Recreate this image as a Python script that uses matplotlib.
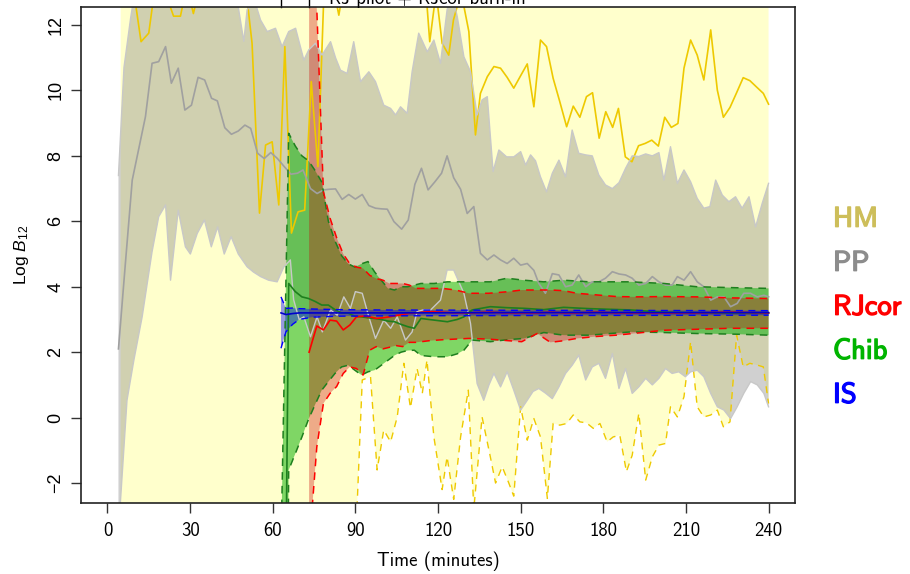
import numpy as np
import matplotlib
matplotlib.use("Agg")
import matplotlib.pyplot as plt
import matplotlib.patheffects as pe

plt.rcParams['mathtext.fontset'] = 'custom'
plt.rcParams['mathtext.rm'] = 'Liberation Sans'
plt.rcParams['mathtext.it'] = 'Liberation Sans:italic'

CMSS = ['cmss10', 'DejaVu Sans']
REG = ['Liberation Sans', 'DejaVu Sans']

#%% Estimates of log Bayes factor over time

# harmonic mean: mean and lower quantile (upper is off the chart)
hm_t = [4.8, 7.2, 9.6, 12.2, 15.0, 17.0, 19.4, 21.8, 24.0, 26.5, 28.8, 31.2, 33.6, 36.0, 38.4, 40.8,
        43.2, 45.6, 48.0, 50.4, 52.5, 55.2, 57.4, 59.8, 62.2, 64.4, 66.8, 69.2, 71.6, 74.0, 76.4, 78.8,
        81.2, 84.0, 86.4, 88.8, 91.2, 93.6, 96.0, 98.4, 100.8, 103.2, 105.6, 108.0, 110.4, 112.8, 115.2,
        117.0, 119.3, 121.5, 123.9, 125.6, 128.4, 131.2, 133.6, 135.4, 137.9, 140.3, 142.7, 145.1,
        147.5, 150.0, 152.4, 154.8, 157.2, 159.4, 161.8, 164.2, 166.7, 169.1, 171.5, 173.9, 176.1,
        178.5, 180.9, 183.4, 185.5, 188.0, 190.4, 192.8, 195.2, 197.6, 200.0, 202.3, 204.7, 207.1,
        209.3, 211.7, 214.1, 216.5, 219.0, 221.4, 223.6, 226.0, 228.4, 230.8, 233.2, 235.7, 238.1, 240.0]
hm_mid = [13.5, 13.5, 13.0, 11.49, 11.75, 13.0, 13.5, 12.8, 12.27, 12.27, 13.2, 12.35, 13.2, 13.5, 13.0,
          13.5, 13.0, 13.4, 12.6, 13.0, 11.44, 6.25, 8.33, 8.43, 6.5, 11.34, 5.64, 6.29, 6.34, 10.27, 7.67,
          13.5, 13.5, 12.3, 13.5, 13.0, 13.5, 13.2, 13.6, 13.0, 13.5, 13.3, 13.5, 13.0, 13.4, 13.2, 13.5,
          11.49, 13.0, 11.44, 11.08, 12.15, 13.0, 11.8, 8.64, 9.91, 10.42, 10.73, 10.68, 10.4,
          10.07, 10.45, 10.81, 9.5, 11.54, 11.34, 10.37, 9.66, 8.89, 9.52, 9.18, 9.81, 9.93,
          8.54, 9.35, 8.87, 9.45, 7.97, 7.82, 8.31, 8.38, 8.48, 8.30, 9.18, 8.87, 8.99,
          10.68, 11.54, 11.08, 10.32, 11.85, 10.01, 9.18, 9.48, 9.93, 10.39, 10.30, 10.10, 9.91, 9.58]

hm_lo_t = [4.8, 90.0, 92.5, 95.5, 97.9, 100.3, 102.8, 105.2, 107.6, 110.0, 112.4, 114.3, 116.0, 118.5,
           121.5, 123.3, 125.7, 128.2, 131.0, 133.0, 136.0, 139.0, 140.9, 143.3, 145.7, 147.5, 150.0,
           152.4, 154.8, 157.2, 159.7, 161.8, 164.2, 166.7, 169.1, 171.5, 173.9, 176.4, 178.8, 181.4,
           183.6, 186.0, 188.4, 190.5, 192.9, 195.4, 197.8, 200.2, 202.6, 204.4, 206.9, 209.3, 211.7,
           214.1, 216.5, 219.0, 221.4, 223.6, 226.0, 228.4, 230.8, 233.2, 235.7, 238.1, 240.0]
hm_lo = [-4.0, -4.0, 1.15, 1.25, -1.6, -0.38, -0.74, 0.02, 1.66, 0.3, 1.5, 0.74, 1.76, -0.59,
         -2.2, -1.2, -2.5, -0.59, 0.84, -2.8, 0.02, -1.2, -2.0, -1.5, -2.0, -2.4, 0.33,
         -0.69, -0.03, -0.59, -2.47, -0.18, -0.23, -0.18, 0.08, -0.13, -0.16, -0.33, -0.18, -0.74,
         -0.59, -0.54, -1.65, -1.15, 0.13, -1.91, -1.2, -0.84, -0.79, 0.33, 0.02, 0.64, 2.32,
         0.33, 0.02, 0.08, 0.23, -0.28, -0.13, 2.52, 1.55, 1.66, 1.61, 1.55, 0.43]

# power posterior: median, lower and upper quantiles
pp_t = [4.0, 6.5, 9.0, 11.4, 13.8, 16.2, 18.6, 21.1, 23.2, 25.7, 28.1, 30.5, 32.9, 35.3, 37.8, 39.9,
        42.6, 45.0, 47.5, 49.9, 52.0, 54.5, 56.9, 59.3, 61.7, 64.2, 66.6, 69.0, 71.0, 73.7, 76.1, 78.5,
        80.6, 82.8, 85.2, 87.6, 90.0, 92.5, 94.9, 97.3, 99.5, 101.6, 104.0, 106.8, 109.2, 111.6, 114.0,
        116.4, 118.9, 121.3, 123.3, 125.7, 128.2, 130.6, 133.0, 135.4, 137.9, 140.3, 142.7, 145.1,
        147.5, 150.0, 152.4, 154.8, 156.6, 159.0, 161.5, 163.9, 166.3, 168.7, 171.1, 173.6, 176.0,
        178.4, 180.8, 183.3, 185.7, 188.1, 190.5, 192.9, 195.4, 197.8, 200.2, 202.6, 205.0, 206.9,
        209.3, 211.7, 214.1, 216.5, 219.0, 221.4, 223.8, 226.2, 228.6, 231.0, 233.4, 235.9, 238.3, 240.0]
pp_mid = [2.1, 4.7, 7.26, 8.23, 9.2, 10.83, 10.88, 11.34, 10.22, 10.68, 9.4, 9.55, 10.4, 10.32, 9.76, 9.68,
          8.86, 8.66, 8.76, 8.94, 8.84, 8.08, 7.92, 8.10, 7.92, 7.67, 7.44, 7.47, 7.57, 7.0, 6.85, 6.96,
          6.98, 6.99, 6.67, 6.82, 6.68, 6.82, 6.48, 6.40, 6.38, 6.37, 5.99, 5.76, 6.04, 7.13, 7.62,
          6.96, 7.21, 7.47, 8.0, 7.33, 6.98, 6.24, 6.45, 5.02, 4.82, 4.97, 4.82, 4.71,
          4.87, 4.66, 4.71, 4.5, 4.1, 3.8, 4.4, 4.36, 4.0, 4.05, 4.36, 4.0, 4.15,
          4.15, 4.26, 4.46, 4.39, 4.36, 4.26, 4.05, 4.1, 4.31, 4.15, 4.05, 4.05, 4.31,
          4.2, 4.46, 4.15, 4.0, 3.59, 3.69, 3.69, 3.39, 3.49, 3.8, 3.8, 3.69, 3.74, 3.69]

pp_hi_t = [4.0, 6.0, 8.4, 10.8, 20.0, 30.0, 40.0, 45.0, 47.4, 49.5, 50.7, 53.2, 55.6, 58.0, 61.0, 63.4,
           65.8, 68.3, 71.3, 73.1, 75.5, 77.9, 81.0, 82.8, 84.6, 87.0, 89.4, 91.9, 94.9, 97.3, 100.3,
           102.8, 104.6, 106.4, 108.8, 110.6, 113.0, 116.1, 118.5, 120.9, 123.3, 125.0, 127.0, 129.4,
           131.8, 134.2, 136.0, 137.9, 140.0, 142.1, 144.9, 147.5, 150.0, 151.8, 153.6, 155.4, 157.2,
           159.4, 161.5, 163.9, 166.3, 168.7, 171.1, 173.6, 176.0, 178.4, 180.8, 183.3, 185.7, 188.1,
           190.5, 192.9, 195.4, 197.8, 200.2, 202.0, 204.4, 206.9, 209.3, 211.7, 214.1, 216.5, 218.7,
           220.8, 223.2, 225.6, 228.0, 230.4, 232.9, 235.3, 237.7, 240.0]
pp_hi = [7.4, 10.7, 12.2, 13.5, 14.0, 14.0, 14.0, 13.5, 12.6, 11.5, 12.46, 12.8, 12.15, 11.8, 11.9, 11.34,
         11.8, 11.9, 10.93, 11.24, 11.44, 11.08, 11.49, 11.0, 10.62, 10.52, 11.49, 10.27, 10.57, 10.27, 9.55,
         9.45, 9.25, 9.5, 9.3, 10.57, 11.75, 11.18, 11.54, 10.83, 12.46, 13.0, 12.25, 11.03,
         10.57, 9.25, 9.71, 9.81, 7.52, 8.18, 7.97, 7.97, 8.13, 7.72, 8.03, 7.85, 7.36,
         6.9, 7.47, 7.87, 7.36, 8.79, 8.08, 8.03, 8.0, 7.41, 7.11, 7.0, 7.18, 7.62,
         8.0, 7.98, 8.06, 8.0, 8.1, 7.26, 8.28, 7.16, 7.57, 7.21, 6.7, 6.40, 6.45,
         7.26, 6.8, 6.6, 6.75, 6.40, 6.75, 5.83, 6.55, 7.16]

pp_lo_t = [4.0, 7.1, 9.6, 12.6, 15.0, 16.2, 18.6, 21.1, 22.9, 25.7, 28.3, 30.1, 32.6, 35.2, 37.7, 40.0,
           42.4, 44.9, 47.5, 50.7, 53.0, 55.6, 58.5, 61.6, 64.0, 66.4, 67.6, 69.6, 71.3, 73.7, 76.1,
           78.0, 81.0, 83.4, 85.8, 88.2, 90.0, 92.5, 94.9, 97.3, 100.3, 102.8, 105.2, 108.2, 110.6,
           112.4, 115.0, 117.3, 120.9, 123.3, 125.7, 129.4, 131.8, 134.2, 136.6, 138.5, 140.3, 142.7,
           145.1, 147.5, 150.0, 152.4, 154.5, 156.6, 159.0, 161.5, 163.9, 166.3, 168.7, 171.1, 173.6,
           176.0, 178.4, 180.8, 183.3, 185.7, 188.1, 190.5, 192.9, 195.4, 197.8, 200.2, 202.6, 205.0,
           207.4, 209.8, 211.7, 214.1, 216.5, 219.0, 221.4, 223.8, 226.2, 228.6, 231.0, 233.5, 235.9,
           238.3, 240.0]
pp_lo = [-3.5, 0.53, 1.76, 3.08, 4.41, 5.07, 6.14, 6.5, 4.2, 6.34, 5.22, 5.0, 5.63, 6.04, 5.22, 5.83,
         5.0, 5.53, 5.0, 4.61, 4.45, 4.31, 4.2, 4.15, 4.6, 4.82, 3.6, 3.0, 3.08, 2.47, 3.08,
         2.62, 3.29, 3.13, 3.69, 3.34, 3.85, 3.8, 3.08, 2.42, 2.98, 2.73, 3.08, 2.37, 2.62,
         3.24, 3.3, 3.29, 3.59, 4.51, 4.51, 3.8, 2.88, 1.04, 0.53, 1.0, 1.35, 0.94,
         1.4, 0.84, 0.23, 0.53, 0.8, 0.89, 0.75, 0.58, 0.94, 1.35, 1.60, 1.91, 1.15,
         1.55, 1.66, 1.2, 1.96, 0.89, 1.5, 0.74, 0.94, 1.2, 1.0, 1.2, 1.5, 1.35,
         1.40, 1.25, 1.4, 1.45, 1.25, 0.74, 0.33, 0.23, -0.03, 0.33, 0.74, 1.1, 1.0,
         0.74, 0.33]

# RJ with corrected burn-in
rj_t = [73.2, 76.0, 78.4, 80.8, 83.2, 85.6, 88.0, 90.4, 92.8, 95.2, 97.6, 100.0, 102.4, 104.8, 107.2,
        109.6, 112.0, 116.8, 121.6, 126.4, 131.2, 138.4, 145.6, 150.4, 156.0, 160.8, 165.6, 170.4,
        177.6, 184.8, 192.0, 202.0, 214.0, 226.0, 240.0]
rj_lo = [-4.0, -0.9, 0.43, 0.74, 0.95, 1.35, 1.55, 1.5, 1.3, 2.06, 2.17, 2.1, 2.15, 2.2, 2.17,
         2.3, 2.3, 2.35, 2.38, 2.4, 2.42, 2.4, 2.35, 2.32, 2.57, 2.3, 2.35, 2.42,
         2.48, 2.52, 2.58, 2.67, 2.7, 2.73, 2.73]
rj_mid = [2.0, 2.8, 2.68, 2.98, 2.95, 2.68, 2.83, 3.08, 3.1, 3.08, 3.03, 3.05, 3.08, 3.12, 3.15,
          3.19, 3.2, 3.24, 3.22, 3.2, 3.2, 3.22, 3.2, 3.2, 3.2, 3.22, 3.2, 3.2,
          3.22, 3.2, 3.2, 3.2, 3.2, 3.22, 3.2]
rj_hi = [14.0, 12.5, 6.9, 6.1, 5.5, 5.0, 4.7, 4.6, 4.56, 4.35, 4.25, 4.2, 4.1, 4.1, 4.1,
         4.05, 3.95, 3.95, 3.95, 3.9, 3.8, 3.8, 3.85, 3.9, 3.9, 3.9, 3.88, 3.8,
         3.75, 3.7, 3.69, 3.7, 3.69, 3.66, 3.64]

# Chib
chib_t = [63.0, 65.8, 68.2, 70.6, 73.0, 75.4, 77.8, 80.2, 82.6, 85.0, 87.4, 89.8, 92.2, 94.6, 97.0,
          99.4, 101.8, 104.2, 106.6, 109.0, 111.4, 113.8, 118.6, 123.4, 127.0, 129.4, 132.4, 139.0,
          145.0, 151.2, 158.4, 165.6, 175.0, 190.0, 202.0, 214.0, 228.0, 240.0]
chib_lo = [-30.0, -1.6, -1.1, -0.59, -0.05, 0.4, 0.84, 1.1, 1.35, 1.55, 1.6, 1.45, 1.3, 1.4, 1.45,
           1.6, 1.75, 1.9, 2.0, 2.05, 2.06, 1.9, 1.86, 1.86, 1.95, 2.06, 2.37, 2.32,
           2.38, 2.42, 2.6, 2.52, 2.52, 2.62, 2.6, 2.57, 2.55, 2.52]
chib_mid = [-20.0, 4.1, 3.85, 3.69, 3.64, 3.55, 3.44, 3.44, 3.3, 3.2, 3.19, 3.1, 3.08, 3.05, 3.03,
            3.0, 2.95, 2.93, 2.85, 2.78, 2.73, 3.03, 2.98, 2.93, 3.0, 3.08, 3.29, 3.39,
            3.36, 3.34, 3.3, 3.37, 3.33, 3.29, 3.22, 3.2, 3.19, 3.19]
chib_hi = [-4.0, 8.69, 8.3, 8.0, 7.85, 7.55, 7.2, 6.0, 5.4, 4.95, 4.7, 4.6, 4.7, 4.77, 4.45,
           4.2, 3.95, 3.9, 4.0, 4.0, 4.05, 4.1, 4.1, 4.15, 4.15, 4.15, 4.15, 4.15,
           4.26, 4.2, 4.15, 4.2, 4.15, 4.15, 4.1, 4.0, 3.97, 3.95]

# importance sampling
is_t = [63.0, 64.8, 67.2, 69.6, 74.4, 84.0, 100.0, 150.0, 240.0]
is_lo = [2.12, 2.62, 2.85, 3.0, 3.07, 3.1, 3.11, 3.12, 3.13]
is_mid = [3.2, 3.15, 3.18, 3.2, 3.2, 3.2, 3.2, 3.21, 3.21]
is_hi = [3.69, 3.34, 3.35, 3.33, 3.32, 3.3, 3.29, 3.28, 3.27]

# RJ pilot run and burn-in end
events = [63, 73]

methods = ['HM', 'PP', 'RJcor', 'Chib', 'IS']
meth_cols = ['#CDBE5A', '#8C8C8C', '#FF0000', '#00B400', '#0000FF']

#%% Plot

fig = plt.figure(figsize=(9.1, 5.74), dpi=100)
ax = fig.add_axes([81/910, 1-503/574, (795-81)/910, (503-7)/574])
ax.set_xlim(-9.6, 249.6)
ax.set_ylim(-2.61, 12.55)

def band(tl, lo, th, hi, **kw):
    # polygon between a lower and an upper curve that may have their own time points
    ax.fill(np.r_[th, tl[::-1]], np.r_[hi, lo[::-1]], lw=0, **kw)

hm_top = np.full(len(hm_lo_t), 15.0)
ax.fill_between(hm_lo_t, hm_lo, hm_top, color='#FFFFCC', lw=0)
ax.plot(hm_t, hm_mid, color='#EEC900', lw=1.2)
ax.plot(hm_lo_t, hm_lo, color='#EEC900', lw=1.0, ls=(0, (5, 4)))

band(np.array(pp_lo_t), np.array(pp_lo), np.array(pp_hi_t), np.array(pp_hi), color='#808080', alpha=0.37)

band(np.array(chib_t), np.array(chib_lo), np.array(chib_t), np.array(chib_hi), color='#00AF00', alpha=0.5)
band(np.array(rj_t), np.array(rj_lo), np.array(rj_t), np.array(rj_hi), color='#CD0000', alpha=0.33)
band(np.array(is_t), np.array(is_lo), np.array(is_t), np.array(is_hi), color='#0000FF', alpha=0.4)

ax.plot(pp_lo_t, pp_lo, color='#C8C8C8', lw=1.0)
ax.plot(pp_hi_t, pp_hi, color='#C8C8C8', lw=1.0)
ax.plot(pp_t, pp_mid, color='#A0A0A0', lw=1.2)

ax.plot(chib_t, chib_lo, color='#1E7F1E', lw=1.1, ls=(0, (5, 4)))
ax.plot(chib_t, chib_hi, color='#1E7F1E', lw=1.1, ls=(0, (5, 4)))
ax.plot(chib_t, chib_mid, color='#1E7F1E', lw=1.2)

ax.plot(rj_t, rj_lo, color='#FF0000', lw=1.1, ls=(0, (5, 4)))
ax.plot(rj_t, rj_hi, color='#FF0000', lw=1.1, ls=(0, (5, 4)))
ax.plot(rj_t, rj_mid, color='#FF0000', lw=1.2)

ax.plot(is_t, is_lo, color='#0000FF', lw=1.0, ls=(0, (5, 4)))
ax.plot(is_t, is_hi, color='#0000FF', lw=1.0, ls=(0, (5, 4)))
ax.plot(is_t, is_mid, color='#0000CC', lw=1.2)

# event markers sticking out above the box
for ev in events:
    ax.plot([ev, ev], [12.55, 13.5], color='black', lw=1.0, clip_on=False)

ax.set_xticks(np.arange(0, 241, 30))
ax.set_yticks(np.arange(-2, 13, 2))
ax.tick_params(direction='out', length=7, width=1, color='#333333')
for lab in ax.get_xticklabels():
    lab.set_family(CMSS)
    lab.set_fontsize(13.5)
for lab in ax.get_yticklabels():
    lab.set_family(REG)
    lab.set_fontsize(13)
    lab.set_rotation(90)
    lab.set_va('center')
ax.tick_params(axis='x', pad=7)
ax.tick_params(axis='y', pad=5)
for s in ax.spines.values():
    s.set_linewidth(1.2)
    s.set_color('#222222')

ax.set_xlabel('Time (minutes)', family=CMSS, fontsize=13.5, labelpad=8)
ax.set_ylabel(r'Log $B_{12}$', family=REG, fontsize=12.5, labelpad=12)

fig.text(427/910, 570/574, 'RJ pilot + RJcor burn-in', family=CMSS, fontsize=13.5,
         ha='center', va='baseline')

for i, (m, c) in enumerate(zip(methods, meth_cols)):
    fig.text(833/910, 1 - (226.7 + 44*i)/574, m, color=c, family=CMSS,
             fontsize=20.5, ha='left', va='baseline',
             path_effects=[pe.withStroke(linewidth=1.0, foreground=c)])

fig.savefig('out.png', dpi=100)
